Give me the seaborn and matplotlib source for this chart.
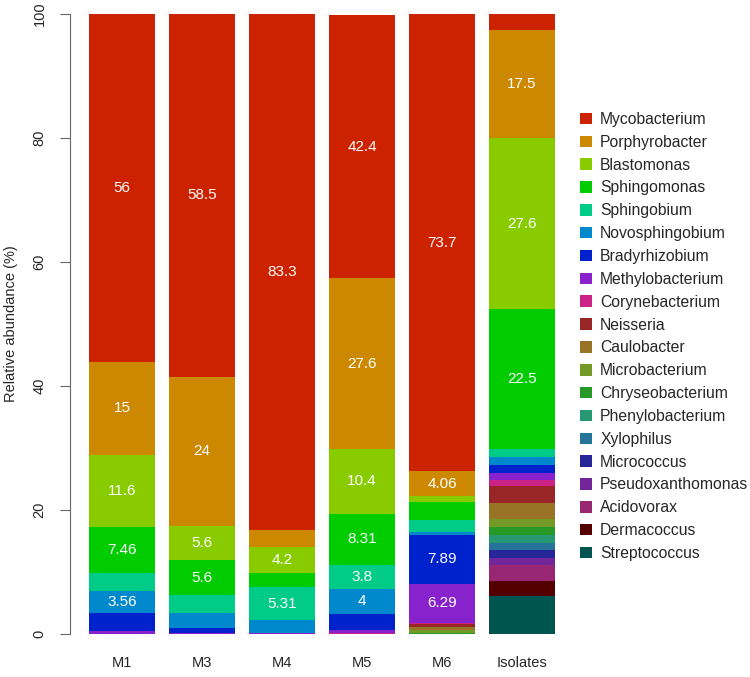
import numpy as np
import pandas as pd
import matplotlib.pyplot as plt
import seaborn as sns
from matplotlib.patches import Patch

# samples and taxa (legend order, top of stack first)
samples = ["M1", "M3", "M4", "M5", "M6", "Isolates"]
taxa = ["Mycobacterium", "Porphyrobacter", "Blastomonas", "Sphingomonas",
        "Sphingobium", "Novosphingobium", "Bradyrhizobium", "Methylobacterium",
        "Corynebacterium", "Neisseria", "Caulobacter", "Microbacterium",
        "Chryseobacterium", "Phenylobacterium", "Xylophilus", "Micrococcus",
        "Pseudoxanthomonas", "Acidovorax", "Dermacoccus", "Streptococcus"]
colors = ["#CC2200", "#CC8800", "#88CC00", "#00CC00", "#00CC88", "#0088CC",
          "#0022CC", "#8822CC", "#CC2288", "#992626", "#997326", "#739926",
          "#269926", "#269973", "#267399", "#262699", "#732699", "#992673",
          "#550000", "#005550"]

# relative abundance (%) per sample, in taxa order
m1 = [56, 15, 11.6, 7.46, 2.96, 3.56, 2.85, 0.5, 0, 0, 0, 0, 0, 0, 0, 0, 0, 0, 0, 0]
m3 = [58.5, 24, 5.6, 5.6, 2.9, 2.5, 0.7, 0.2, 0, 0, 0, 0, 0, 0, 0, 0, 0, 0, 0, 0]
m4 = [83.3, 2.7, 4.2, 2.3, 5.31, 2.0, 0, 0.2, 0, 0, 0, 0, 0, 0, 0, 0, 0, 0, 0, 0]
m5 = [42.4, 27.6, 10.4, 8.31, 3.8, 4, 2.6, 0.5, 0.2, 0, 0, 0, 0, 0, 0, 0, 0, 0, 0, 0]
m6 = [73.7, 4.06, 0.9, 2.95, 1.9, 0.5, 7.89, 6.29, 0.2, 0.4, 0.6, 0.4, 0.2, 0, 0, 0, 0, 0, 0, 0]
isolates = [2.5, 17.5, 27.6, 22.5, 1.3, 1.3, 1.3, 1.1, 1.1, 2.6, 2.6, 1.3, 1.3, 1.3,
            1.1, 1.3, 1.1, 2.6, 2.4, 6.2]

abund = pd.DataFrame({"M1": m1, "M3": m3, "M4": m4, "M5": m5, "M6": m6,
                      "Isolates": isolates}, index=taxa)

sns.set_style("white")
plt.rcParams["font.family"] = ["Liberation Sans", "DejaVu Sans"]

fig = plt.figure(figsize=(7.5, 6.77), dpi=100)
ax = fig.add_axes([70 / 750, 43 / 677, 490 / 750, 620 / 677])

# stacked bars, smallest taxa at the bottom
bottom = np.zeros(len(samples))
for taxon, col in reversed(list(zip(taxa, colors))):
    vals = abund.loc[taxon, samples].values.astype(float)
    sns.barplot(x=samples, y=vals, order=samples, bottom=bottom.copy(),
                color=col, saturation=1, width=0.83, linewidth=0, ax=ax)
    # value labels on the larger segments
    for i, s in enumerate(samples):
        v = vals[i]
        if v >= 3.5 and (s != "Isolates" or v >= 10):
            ax.text(i, bottom[i] + v / 2, f"{v:g}", ha="center", va="center",
                    color="white", fontsize=11)
    bottom += vals

ax.set_xlim(-0.65, 5.475)
ax.set_ylim(0, 100)
for side in ["top", "right", "bottom"]:
    ax.spines[side].set_visible(False)
ax.spines["left"].set_bounds(0, 100)
ax.spines["left"].set_color("#666666")
ax.set_yticks([0, 20, 40, 60, 80, 100])
ax.set_yticklabels(["0", "20", "40", "60", "80", "100"], rotation=90, va="center")
ax.tick_params(axis="y", length=7, color="#666666", pad=10, labelsize=10.5, left=True)
ax.tick_params(axis="x", length=0, pad=16, labelsize=10.5)
ax.set_xlabel("")
ax.set_ylabel("Relative abundance (%)", fontsize=10.5, labelpad=10)

handles = [Patch(facecolor=c, edgecolor="none") for c in colors]
fig.legend(handles, taxa, loc="center left", bbox_to_anchor=(0.773, 0.503),
           frameon=False, borderpad=0, borderaxespad=0, fontsize=11.3,
           handlelength=0.75, handleheight=0.75, handletextpad=0.55, labelspacing=0.5)

fig.savefig("out.png", dpi=100)
